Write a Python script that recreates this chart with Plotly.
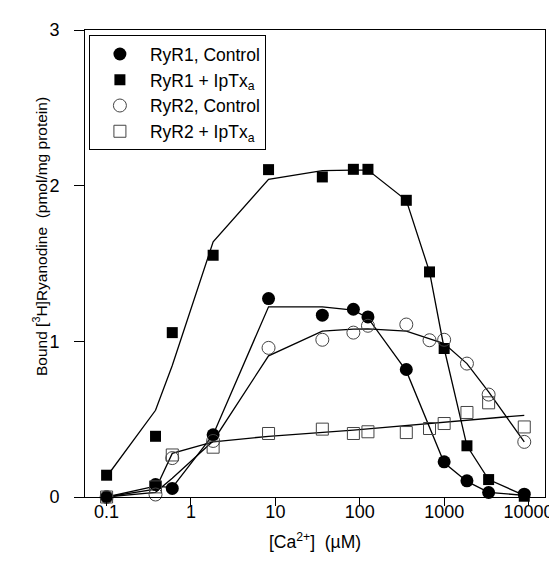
import plotly.graph_objects as go

# ---- data ----
ryr1_ctrl_x = [0.1, 0.38, 0.6, 1.83, 8.3, 36, 84, 125, 356, 1000, 1862, 3365, 8900]
ryr1_ctrl_y = [0.0, 0.08, 0.055, 0.40, 1.275, 1.168, 1.206, 1.157, 0.819, 0.226, 0.104, 0.029, 0.018]
ryr1_ctrl_fit = [0.0, 0.07, 0.06, 0.40, 1.222, 1.222, 1.20, 1.15, 0.81, 0.22, 0.10, 0.03, 0.01]

ryr1_tx_x = [0.1, 0.38, 0.6, 1.83, 8.3, 36, 84, 125, 356, 671, 1000, 1862, 3365, 8900]
ryr1_tx_y = [0.14, 0.39, 1.056, 1.553, 2.103, 2.056, 2.105, 2.105, 1.906, 1.446, 0.954, 0.329, 0.112, 0.005]
ryr1_tx_fit = [0.13, 0.557, 0.845, 1.639, 2.041, 2.097, 2.10, 2.10, 1.906, 1.446, 0.954, 0.329, 0.112, 0.01]

ryr2_ctrl_x = [0.1, 0.38, 0.6, 1.83, 8.3, 36, 84, 125, 356, 671, 1000, 1862, 3365, 8900]
ryr2_ctrl_y = [0.0, 0.016, 0.25, 0.36, 0.958, 1.01, 1.056, 1.10, 1.108, 1.007, 1.01, 0.857, 0.658, 0.354]
ryr2_ctrl_fit = [0.0, 0.03, 0.12, 0.36, 0.907, 1.065, 1.078, 1.08, 1.065, 1.018, 0.986, 0.857, 0.675, 0.354]

ryr2_tx_x = [0.1, 0.38, 0.6, 1.83, 8.3, 36, 84, 125, 356, 671, 1000, 1862, 3365, 8900]
ryr2_tx_y = [0.0, 0.065, 0.27, 0.32, 0.408, 0.436, 0.408, 0.419, 0.414, 0.44, 0.472, 0.543, 0.605, 0.45]
ryr2_tx_fit = [0.0, 0.05, 0.28, 0.354, 0.39, 0.413, 0.43, 0.438, 0.459, 0.472, 0.48, 0.492, 0.504, 0.525]

x_tick_vals = [0.1, 1, 10, 100, 1000, 10000]
x_tick_text = ["0.1", "1", "10", "100", "1000", "10000"]
y_tick_vals = [0, 1, 2, 3]

FONT = "Arial, Liberation Sans, sans-serif"

fig = go.Figure()

# fitted lines
for xs, ys in [(ryr1_ctrl_x, ryr1_ctrl_fit), (ryr1_tx_x, ryr1_tx_fit),
               (ryr2_ctrl_x, ryr2_ctrl_fit), (ryr2_tx_x, ryr2_tx_fit)]:
    fig.add_trace(go.Scatter(x=xs, y=ys, mode="lines", showlegend=False,
                             line=dict(color="black", width=1.3), hoverinfo="skip",
                             cliponaxis=False))

# markers
fig.add_trace(go.Scatter(x=ryr1_ctrl_x, y=ryr1_ctrl_y, mode="markers", name="RyR1, Control",
                         marker=dict(symbol="circle", size=13, color="black"), cliponaxis=False))
fig.add_trace(go.Scatter(x=ryr1_tx_x, y=ryr1_tx_y, mode="markers", name="RyR1 + IpTx<sub>a</sub>",
                         marker=dict(symbol="square", size=11, color="black"), cliponaxis=False))
fig.add_trace(go.Scatter(x=ryr2_ctrl_x, y=ryr2_ctrl_y, mode="markers", name="RyR2, Control",
                         marker=dict(symbol="circle-open", size=13, color="#444",
                                     line=dict(width=1)), cliponaxis=False))
fig.add_trace(go.Scatter(x=ryr2_tx_x, y=ryr2_tx_y, mode="markers", name="RyR2 + IpTx<sub>a</sub>",
                         marker=dict(symbol="square-open", size=12, color="#444",
                                     line=dict(width=1)), cliponaxis=False))

fig.update_layout(
    width=557, height=563,
    margin=dict(l=77, r=12, t=21, b=74),
    paper_bgcolor="white", plot_bgcolor="white",
    font=dict(family=FONT, size=18, color="black"),
    showlegend=True,
    legend=dict(x=0.0085, y=0.989, xanchor="left", yanchor="top",
                bordercolor="black", borderwidth=1, bgcolor="white",
                font=dict(family=FONT, size=17.5, color="black"),
                itemwidth=50, tracegroupgap=0),
    xaxis=dict(type="log", range=[-1.256, 4.195], tickvals=x_tick_vals, ticktext=x_tick_text,
               showline=True, linecolor="black", linewidth=1, mirror=True,
               ticks="outside", ticklen=8, tickcolor="black", tickwidth=1,
               ticklabelstandoff=-10,
               showgrid=False, zeroline=False,
               title=dict(text="[Ca<sup>2+</sup>]  (µM)", font=dict(size=17.5))),
    yaxis=dict(range=[0, 3], tickvals=y_tick_vals,
               showline=True, linecolor="black", linewidth=1, mirror=True,
               ticks="outside", ticklen=10, tickcolor="black", tickwidth=1,
               ticklabelstandoff=11,
               showgrid=False, zeroline=False),
    annotations=[dict(text="Bound [<sup>3</sup>H]Ryanodine  (pmol/mg protein)",
                      textangle=-90, xref="paper", yref="paper",
                      x=(31.5 - 77) / 468, y=(488.5 - 228) / 467.5,
                      xanchor="center", yanchor="middle", showarrow=False,
                      font=dict(family=FONT, size=15.5, color="black"))],
)

fig.write_html("out.html")
